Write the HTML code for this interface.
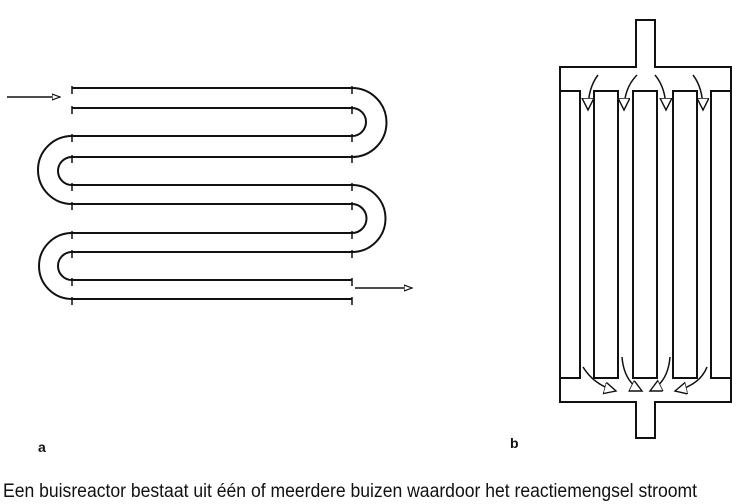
<!DOCTYPE html>
<html><head><meta charset="utf-8">
<style>html,body{margin:0;padding:0;background:#fff;}svg{display:block}</style>
</head><body>
<svg width="753" height="504" viewBox="0 0 753 504" xmlns="http://www.w3.org/2000/svg">
<defs>
<marker id="ah" markerWidth="9" markerHeight="7" refX="8" refY="3.5" orient="auto" markerUnits="userSpaceOnUse">
<path d="M0,0.5 L8,3.5 L0,6.5 Z" fill="#fff" stroke="#111" stroke-width="1.2"/>
</marker>
<marker id="tri" markerWidth="16" markerHeight="16" refX="12" refY="6" orient="auto" markerUnits="userSpaceOnUse">
<path d="M0,0 L12,6 L0,12 Z" fill="#fff" stroke="#111" stroke-width="1.4"/>
</marker>
</defs>
<g fill="none" stroke="#111" stroke-width="2">
<path d="M72,88H352 M72,108H352 M72,136H352 M72,157H352 M72,185H352 M72,204H352 M72,233H352 M72,252H352 M72,280H352 M72,299H352"/>
<g stroke-width="1.5">
<path d="M72,86V94 M72,106V114 M72,134V142 M72,155V163 M72,183V191 M72,202V210 M72,231V239 M72,250V258 M72,278V286 M72,297V305"/>
<path d="M352,86V94 M352,106V114 M352,134V142 M352,155V163 M352,183V191 M352,202V210 M352,231V239 M352,250V258 M352,278V286 M352,297V305"/>
</g>
<path d="M352,88 A34.5,34.5 0 0 1 352,157"/>
<path d="M352,108 A14,14 0 0 1 352,136"/>
<path d="M72,136 A34,34 0 0 0 72,204"/>
<path d="M72,157 A14,14 0 0 0 72,185"/>
<path d="M352,185 A33.5,33.5 0 0 1 352,252"/>
<path d="M352,204 A14.5,14.5 0 0 1 352,233"/>
<path d="M72,233 A33,33 0 0 0 72,299"/>
<path d="M72,252 A14,14 0 0 0 72,280"/>
<path d="M7,97H60" stroke-width="1.6" marker-end="url(#ah)"/>
<path d="M355,288H412" stroke-width="1.6" marker-end="url(#ah)"/>

<path d="M636,20H655V67H731V402H655V438H636V402H560V67H636Z"/>
<rect x="560" y="91" width="20" height="287"/>
<rect x="594" y="91" width="24" height="287"/>
<rect x="633" y="91" width="24" height="287"/>
<rect x="673" y="91" width="24" height="287"/>
<rect x="711" y="91" width="20" height="287"/>
<g stroke-width="1.5">
<path d="M598,75 Q588,88 588,110" marker-end="url(#tri)"/>
<path d="M637,75 Q624,88 624,110" marker-end="url(#tri)"/>
<path d="M655,75 Q666,88 666,110" marker-end="url(#tri)"/>
<path d="M693,75 Q703,88 703,110" marker-end="url(#tri)"/>
<path d="M583,367 Q594,385 616,391" marker-end="url(#tri)"/>
<path d="M622,357 Q624,382 642,391" marker-end="url(#tri)"/>
<path d="M670,357 Q668,382 650,391" marker-end="url(#tri)"/>
<path d="M707,367 Q700,385 675,391" marker-end="url(#tri)"/>
</g>
</g>
<g font-family="Liberation Sans, sans-serif" fill="#111">
<text x="38" y="452" font-size="14" font-weight="bold">a</text>
<text x="510" y="448" font-size="14" font-weight="bold">b</text>
<text x="3" y="497" font-size="19" textLength="694" lengthAdjust="spacingAndGlyphs">Een buisreactor bestaat uit één of meerdere buizen waardoor het reactiemengsel stroomt</text>
</g>
</svg>
</body></html>
